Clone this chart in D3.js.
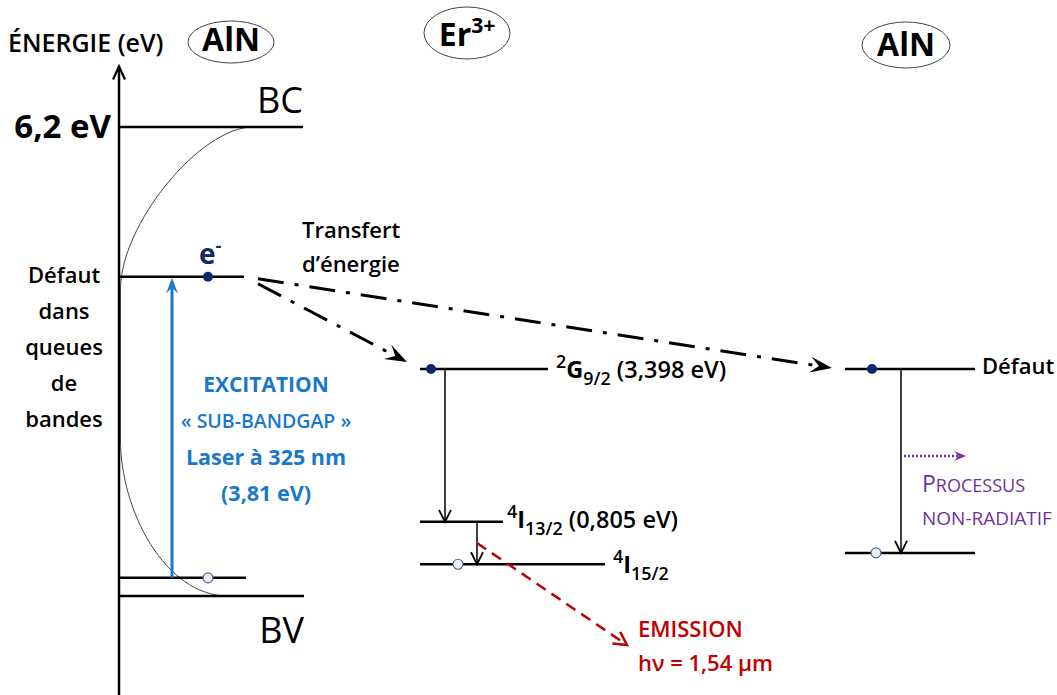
<!DOCTYPE html>
<html><head><meta charset="utf-8">
<script src="https://cdn.jsdelivr.net/npm/d3@7"></script>
<style>body{margin:0;background:#fff}svg{display:block}</style>
</head><body><svg id="c" width="1057" height="695"></svg>
<script>
// ---------- DATA ----------
const levelNames = ["BC", "Défaut", "Défaut bas", "BV", "2G9/2", "4I13/2", "4I15/2", "Défaut AlN", "Fond AlN"];
const levelEnergies = [6.2, 4.22, 0.24, 0, 3.0, 0.98, 0.42, 3.0, 0.57]; // schematic diagram energies (eV)
const columnTitles = ["AlN", "Er", "AlN"];
const axisLabel = "ÉNERGIE (eV)";
const axisTickValues = [6.2];
const axisTickLabels = ["6,2 eV"];
const defectLabelLines = ["Défaut", "dans", "queues", "de", "bandes"];
const transferLines = ["Transfert", "d’énergie"];
const excitationLines = ["EXCITATION", "« SUB-BANDGAP »", "Laser à 325 nm", "(3,81 eV)"];
const emissionLines = ["EMISSION", "hν = 1,54 µm"];
const nonRadLines = ["PROCESSUS", "NON-RADIATIF"];

// ---------- SETUP ----------
const FONT = "'Open Sans','Noto Sans',sans-serif";
const svg = d3.select("#c");
const E = {}; levelNames.forEach((n, i) => E[n] = levelEnergies[i]);
const y = d3.scaleLinear().domain([0, 6.2]).range([596, 127]);
const x = d3.scaleLinear().domain([0, 1057]).range([0, 1057]);
const NAVY = "#0b2a6e", BLUE = "#1a78cc", RED = "#c00000", PURPLE = "#7030a0";

function txt(xp, yp, s, size, opts = {}) {
  return svg.append("text").attr("x", xp).attr("y", yp).text(s)
    .attr("font-family", FONT).attr("font-size", size)
    .attr("font-weight", opts.w || 400).attr("fill", opts.c || "#000")
    .attr("text-anchor", opts.a || "start");
}
function rich(xp, yp, parts, size, opts = {}) {
  const t = svg.append("text").attr("x", xp).attr("y", yp)
    .attr("font-family", FONT).attr("font-size", size).attr("fill", opts.c || "#000")
    .attr("text-anchor", opts.a || "start");
  let cur = 0;
  const sc = opts.sc || 0.66;
  parts.forEach(p => {
    const off = p.sup ? -0.42 * size : p.sub ? 0.28 * size : 0;
    t.append("tspan").text(p.t).attr("dy", off - cur)
      .attr("font-size", p.size || ((p.sup || p.sub) ? size * sc : size))
      .attr("font-weight", p.w || 400);
    cur = off;
  });
  return t;
}
function arrow(x1, y1, x2, y2, o) {
  const L = Math.hypot(x2 - x1, y2 - y1), ux = (x2 - x1) / L, uy = (y2 - y1) / L;
  const px = -uy, py = ux, hl = o.hl || 12, hw = o.hw || 6;
  const back = o.head === "stealth" ? hl * 0.6 : (o.width || 2) * 0.6;
  svg.append("line").attr("x1", x1).attr("y1", y1)
    .attr("x2", x2 - ux * back).attr("y2", y2 - uy * back)
    .attr("stroke", o.c).attr("stroke-width", o.width || 2)
    .attr("stroke-dasharray", o.dash || null).attr("stroke-linecap", o.cap || "butt");
  const lx = x2 - ux * hl + px * hw, ly = y2 - uy * hl + py * hw;
  const rx = x2 - ux * hl - px * hw, ry = y2 - uy * hl - py * hw;
  if (o.head === "stealth") {
    const nx = x2 - ux * hl * 0.6, ny = y2 - uy * hl * 0.6;
    svg.append("path").attr("d", `M${x2},${y2}L${lx},${ly}L${nx},${ny}L${rx},${ry}Z`).attr("fill", o.c);
  } else {
    svg.append("path").attr("d", `M${lx},${ly}L${x2},${y2}L${rx},${ry}`)
      .attr("fill", "none").attr("stroke", o.c).attr("stroke-width", o.hwidth || o.width || 2)
      .attr("stroke-linejoin", "miter");
  }
}

// ---------- AXIS ----------
const axisX = x(119);
svg.append("line").attr("x1", axisX).attr("x2", axisX).attr("y1", y(7.0)).attr("y2", 695)
  .attr("stroke", "#000").attr("stroke-width", 2.5);
svg.append("path").attr("d", `M${axisX - 6},${y(7.0) + 13}L${axisX},${y(7.0)}L${axisX + 6},${y(7.0) + 13}`)
  .attr("fill", "none").attr("stroke", "#000").attr("stroke-width", 2.2);
const ax = svg.append("g").attr("transform", `translate(${axisX},0)`)
  .call(d3.axisLeft(y).tickValues(axisTickValues).tickSize(0).tickPadding(8)
    .tickFormat((d, i) => axisTickLabels[i]));
ax.select(".domain").remove();
ax.selectAll("text").attr("font-family", FONT).attr("font-size", 33).attr("font-weight", 700).attr("fill", "#000");
txt(8, 52, axisLabel, 25, { w: 600 });

// ---------- TITLES ----------
svg.append("ellipse").attr("cx", 231).attr("cy", 42).attr("rx", 43).attr("ry", 21)
  .attr("fill", "none").attr("stroke", "#444").attr("stroke-width", 1);
txt(231, 51, columnTitles[0], 32, { w: 700, a: "middle" });
svg.append("ellipse").attr("cx", 467).attr("cy", 33).attr("rx", 43).attr("ry", 26)
  .attr("fill", "none").attr("stroke", "#444").attr("stroke-width", 1);
rich(467, 46, [{ t: columnTitles[1], w: 700 }, { t: "3+", sup: true, w: 700 }], 32, { a: "middle" });
svg.append("ellipse").attr("cx", 906).attr("cy", 45).attr("rx", 44).attr("ry", 23)
  .attr("fill", "none").attr("stroke", "#444").attr("stroke-width", 1);
txt(906, 56, columnTitles[2], 32, { w: 700, a: "middle" });

// ---------- BAND TAIL CURVE ----------
const yTop = y(E["BC"]), yBot = y(E["BV"]);
svg.append("path").attr("d",
  `M253,${yTop} C200,${yTop} 120,225 120.5,290 L120.5,440 C120.5,510 165,${yBot} 228,${yBot}`)
  .attr("fill", "none").attr("stroke", "#444").attr("stroke-width", 1);

// ---------- LEVELS ----------
const extents = {
  "BC": [119, 303], "Défaut": [119, 244], "Défaut bas": [119, 246], "BV": [119, 304],
  "2G9/2": [420, 548], "4I13/2": [420, 503], "4I15/2": [420, 605],
  "Défaut AlN": [845, 975], "Fond AlN": [845, 975]
};
svg.append("g").selectAll("line").data(levelNames).join("line")
  .attr("x1", d => x(extents[d][0])).attr("x2", d => x(extents[d][1]))
  .attr("y1", d => y(E[d])).attr("y2", d => y(E[d]))
  .attr("stroke", "#000").attr("stroke-width", 2.5);

txt(303, 113, "BC", 36, { a: "end" });
txt(304, 643, "BV", 36, { a: "end" });

defectLabelLines.forEach((s, i) => txt(64, 283 + i * 36, s, 22, { a: "middle", w: 600 }));
transferLines.forEach((s, i) => txt(302, 238 + i * 34, s, 22, { w: 600 }));

// ---------- EXCITATION ----------
arrow(172, y(E["Défaut bas"]), 172, y(E["Défaut"]) + 1, { c: BLUE, width: 3, head: "stealth", hl: 16, hw: 6 });
const exY = [392, 428, 465, 501], exSize = [21, 19.5, 21.5, 21.5], exW = [700, 600, 700, 700];
excitationLines.forEach((s, i) => txt(266, exY[i], s, exSize[i], { a: "middle", w: exW[i], c: BLUE }));

// electrons / holes
svg.append("circle").attr("cx", 208).attr("cy", y(E["Défaut"])).attr("r", 5).attr("fill", NAVY);
rich(199, 264, [{ t: "e", w: 700 }, { t: "-", sup: true, w: 700 }], 28, { c: NAVY });
const holes = [[208, "Défaut bas"], [458, "4I15/2"], [876, "Fond AlN"]];
holes.forEach(h => svg.append("circle").attr("cx", h[0]).attr("cy", y(E[h[1]])).attr("r", 5)
  .attr("fill", "#eeeeea").attr("stroke", "#4a6aa8").attr("stroke-width", 1.2));
[[431, "2G9/2"], [872, "Défaut AlN"]].forEach(h => svg.append("circle").attr("cx", h[0]).attr("cy", y(E[h[1]])).attr("r", 5).attr("fill", NAVY));

// ---------- TRANSFER ARROWS ----------
arrow(258, y(E["Défaut"]) + 2, 832, y(E["Défaut AlN"]) - 1, { c: "#000", width: 3, dash: "26,11,4,11", head: "stealth", hl: 22, hw: 8 });
arrow(258, y(E["Défaut"]) + 7, 407, y(E["2G9/2"]) - 7, { c: "#000", width: 3, dash: "26,11,4,11", head: "stealth", hl: 22, hw: 8 });

// ---------- Er LEVELS ----------
arrow(445, y(E["2G9/2"]), 445, y(E["4I13/2"]), { c: "#000", width: 1.5, head: "open", hl: 12, hw: 6, hwidth: 1.8 });
arrow(477, y(E["4I13/2"]), 477, y(E["4I15/2"]), { c: "#000", width: 1.5, head: "open", hl: 12, hw: 6, hwidth: 1.8 });
rich(556, 378, [{ t: "2", sup: true, w: 600 }, { t: "G", w: 700 }, { t: "9/2", sub: true, w: 600 }, { t: " (3,398 eV)", w: 600 }], 23.5, { sc: 0.76 });
rich(507, 528, [{ t: "4", sup: true, w: 600 }, { t: "I", w: 700 }, { t: "13/2", sub: true, w: 600 }, { t: " (0,805 eV)", w: 600 }], 23.5, { sc: 0.76 });
rich(613, 573, [{ t: "4", sup: true, w: 600 }, { t: "I", w: 700 }, { t: "15/2", sub: true, w: 600 }], 23.5, { sc: 0.76 });

arrow(477, 543, 627, 645, { c: RED, width: 2.5, dash: "11,7", head: "open", hl: 13, hw: 7, hwidth: 2.5 });
txt(638, 637, emissionLines[0], 22, { c: RED, w: 600 });
txt(638, 671, emissionLines[1], 22, { c: RED, w: 600 });

// ---------- RIGHT AlN DEFECT ----------
arrow(901, y(E["Défaut AlN"]), 901, y(E["Fond AlN"]), { c: "#000", width: 1.5, head: "open", hl: 12, hw: 6, hwidth: 1.8 });
txt(982, 374, "Défaut", 22, { w: 600 });
arrow(904, 456, 966, 456, { c: PURPLE, width: 2.5, dash: "2,2", head: "stealth", hl: 12, hw: 5 });
rich(922, 492, [{ t: nonRadLines[0].slice(0, 1), w: 500, size: 23 }, { t: nonRadLines[0].slice(1), w: 500, size: 18 }], 23, { c: PURPLE });
txt(922, 525, nonRadLines[1], 19, { c: PURPLE, w: 500 });
</script></body></html>
